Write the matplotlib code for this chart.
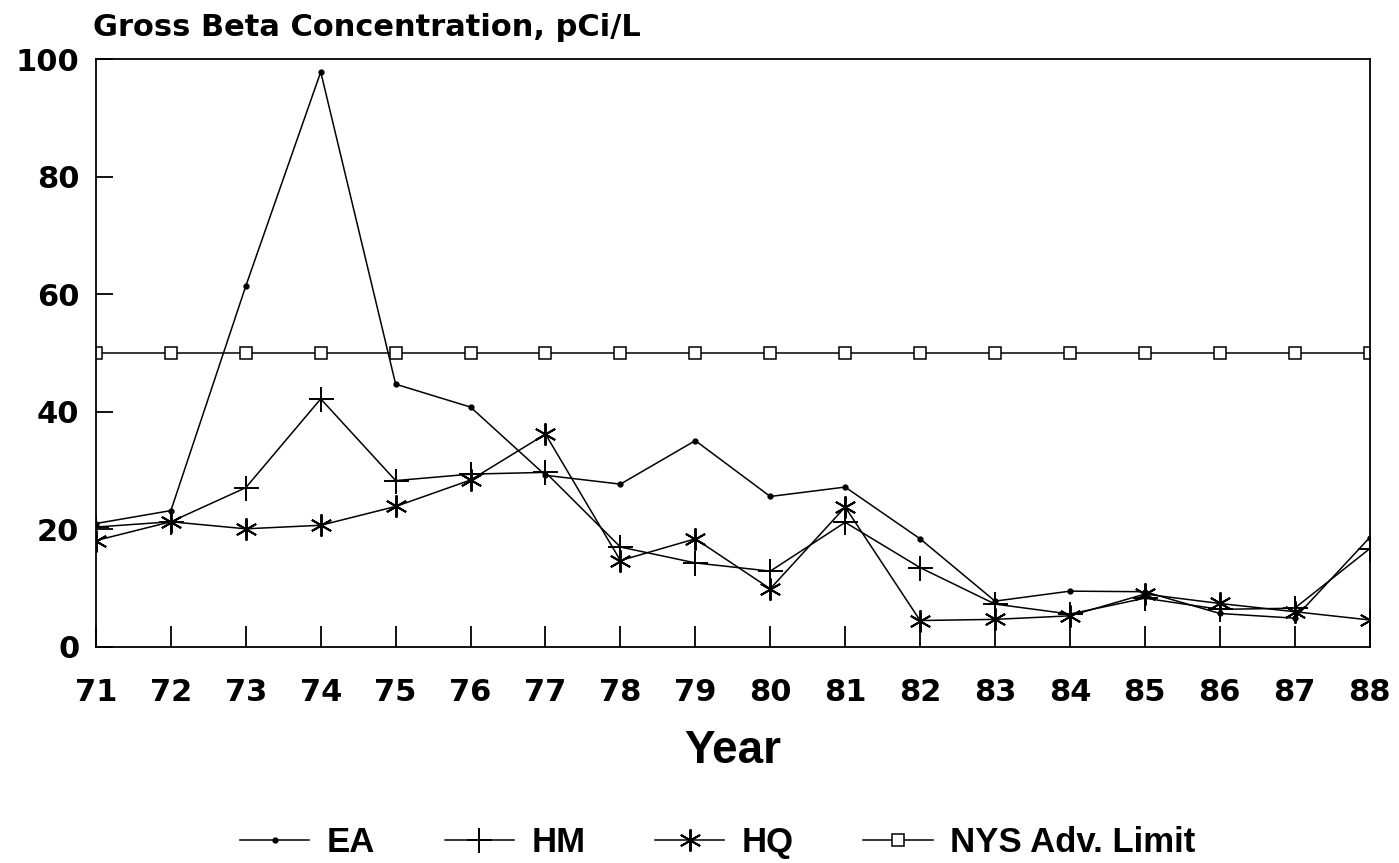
import matplotlib
matplotlib.use("Agg")
import matplotlib.pyplot as plt

# data
years = [71, 72, 73, 74, 75, 76, 77, 78, 79, 80, 81, 82, 83, 84, 85, 86, 87, 88]
year_labels = [str(y) for y in years]

ea = [21.0, 23.2, 61.4, 97.8, 44.7, 40.8, 29.2, 27.7, 35.1, 25.6, 27.2, 18.4, 7.8, 9.5, 9.4, 5.7, 4.9, 18.6]
hm = [20.4, 21.3, 27.1, 42.2, 28.3, 29.4, 29.7, 17.0, 14.3, 12.9, 21.2, 13.5, 7.3, 5.6, 8.3, 6.4, 6.6, 16.7]
hq = [18.1, 21.3, 20.1, 20.7, 23.9, 28.4, 36.2, 14.7, 18.4, 9.9, 23.8, 4.5, 4.7, 5.3, 9.0, 7.4, 6.0, 4.6]
nys = [50] * len(years)

y_ticks = [0, 20, 40, 60, 80, 100]

plt.rcParams['font.family'] = ['Liberation Sans', 'DejaVu Sans']
plt.rcParams['font.weight'] = 'bold'

fig = plt.figure(figsize=(13.99, 8.63), dpi=100)
ax = fig.add_axes([0.0686, 0.2503, 0.9104, 0.6813])

lw = 1.1
ax.plot(years, ea, color='black', lw=lw, marker='o', ms=3.5, label='EA')
ax.plot(years, hm, color='black', lw=lw, marker='+', ms=18, mew=1.4, label='HM')
ax.plot(years, hq, color='black', lw=lw, marker=(6, 2, 0), ms=16, mew=1.4, label='HQ')
ax.plot(years, nys, color='black', lw=lw, marker='s', ms=9, mfc='white', mew=1.1,
        label='NYS Adv. Limit')

ax.set_xlim(71, 88)
ax.set_ylim(0, 100)
ax.set_xticks(years)
ax.set_xticklabels(year_labels)
ax.set_yticks(y_ticks)

for s in ax.spines.values():
    s.set_linewidth(1.3)

# wide, heavy digits like the original
tick_font = {'family': 'DejaVu Sans', 'weight': 'bold', 'size': 22}
ax.tick_params(axis='x', direction='in', length=15, width=1.3, pad=22)
ax.tick_params(axis='y', direction='in', length=12, width=1.3, pad=12)
for lab in ax.get_xticklabels() + ax.get_yticklabels():
    lab.set_fontproperties(tick_font)

ax.set_xlabel('Year', fontsize=33, fontweight='bold', labelpad=16)
fig.text(0.0665, 0.968, 'Gross Beta Concentration, pCi/L', fontsize=22,
         fontweight='bold', family='DejaVu Sans', ha='left', va='center')

leg = fig.legend(loc='center', bbox_to_anchor=(0.513, 0.024), ncol=4, frameon=False,
                 handlelength=2.0, columnspacing=2.0, handletextpad=0.5,
                 prop={'weight': 'bold', 'size': 25})

fig.savefig('out.png', dpi=100, facecolor='white')
